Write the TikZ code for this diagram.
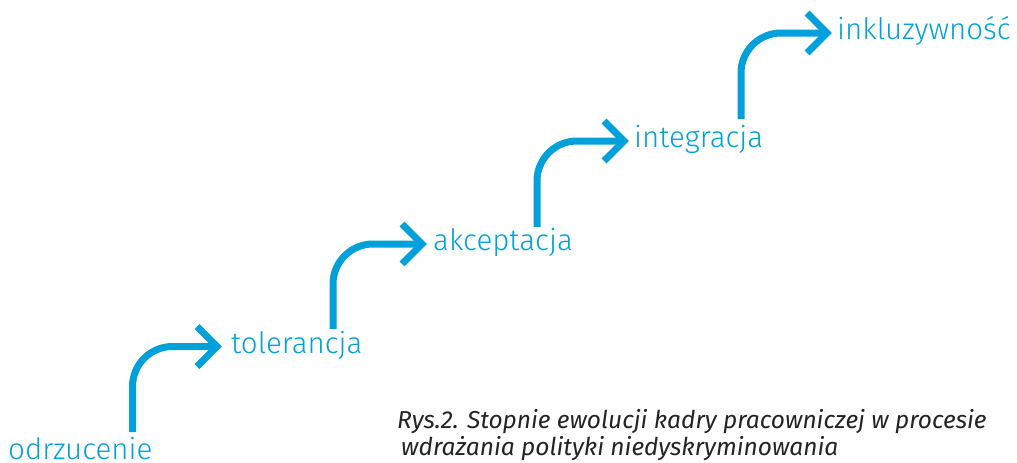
\documentclass[tikz,border=0pt]{standalone}
\usepackage{fontspec}
\setmainfont{Fira Sans}
\newfontfamily\steplightfont{Fira Sans Light}
\usetikzlibrary{positioning}
\definecolor{stepblue}{RGB}{0,160,219}
\definecolor{captiongray}{RGB}{35,35,35}
\tikzset{
  stepline/.style={draw=stepblue, line width=7pt, rounded corners=40pt},
  stepbarb/.style={draw=stepblue, line width=7pt, line join=miter},
  steplabel/.style={text=stepblue, font=\steplightfont\fontsize{29.5}{29.5}\selectfont,
    inner sep=0pt, text height=0.75em, text depth=0.23em}
}
\newcommand*{\barb}[1]
  {\draw[stepbarb] (#1) ++(-20pt,20pt) -- (#1) -- ++(-20pt,-20pt)}

\begin{document}
\begin{tikzpicture}[x=1pt,y=-1pt]
\useasboundingbox (0,0) rectangle (1017,463);
% steps
\node[steplabel, anchor=base west, text depth=0pt] (odr) at (8,459) {odrzucenie};
\coordinate (b1) at (132.5,432);
\coordinate (t1) at (217,346.5);
\coordinate (b2) at (333,329);
\coordinate (t2) at (422,244);
\coordinate (b3) at (537,227);
\coordinate (t3) at (624,141);
\coordinate (b4) at (741,119);
\coordinate (t4) at (827,33);
\node[steplabel, right=14pt of t1, yshift=-4pt] (tol) {tolerancja};
\node[steplabel, right=11pt of t2, yshift=-4pt] (akc) {akceptacja};
\node[steplabel, right=10pt of t3, yshift=-4pt] (int) {integracja};
\node[steplabel, right=10pt of t4, yshift=-4pt] (ink) {inkluzywność};
% arrows
\draw[stepline] (b1) |- (t1);
\barb{t1};
\draw[stepline] (b2) |- (t2);
\barb{t2};
\draw[stepline] (b3) |- (t3);
\barb{t3};
\draw[stepline] (b4) |- (t4);
\barb{t4};
% caption
\node[anchor=base west, align=left, inner sep=0pt, text=captiongray,
  font=\fontsize{24.5}{27}\selectfont\itshape] (cap) at (397,455)
  {Rys.2. Stopnie ewolucji kadry pracowniczej w procesie\\
   \hspace{4pt}wdrażania polityki niedyskryminowania};
\end{tikzpicture}
\end{document}
